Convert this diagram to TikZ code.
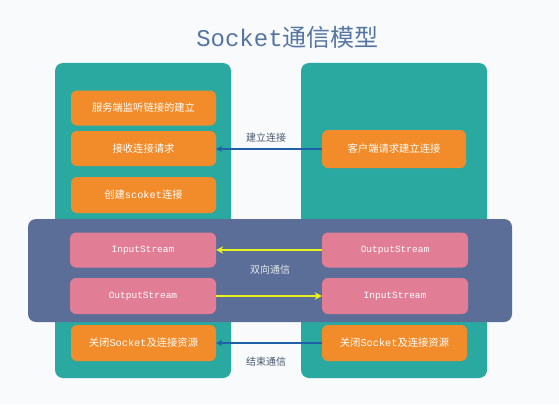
\documentclass[tikz,border=0pt]{standalone}
\usepackage{fontspec}
\setmainfont{Noto Sans CJK SC}
\newfontfamily\mono{Liberation Mono}
\usetikzlibrary{arrows.meta}
\definecolor{bgc}{HTML}{F8FAFC}
\definecolor{panelc}{HTML}{2AA9A0}
\definecolor{orng}{HTML}{F28C2A}
\definecolor{band}{HTML}{5A6E98}
\definecolor{pink}{HTML}{E27D96}
\definecolor{titlec}{HTML}{5676A2}
\definecolor{arrblue}{HTML}{2060A8}
\definecolor{yel}{HTML}{E8F21E}
\definecolor{labc}{HTML}{4A5A6E}
\tikzset{
  panel/.style={fill=panelc, rounded corners=8pt, inner sep=0pt},
  bandbox/.style={fill=band, rounded corners=8pt, inner sep=0pt},
  obox/.style={fill=orng, rounded corners=6pt, inner sep=0pt, minimum width=145pt, minimum height=35pt, text=white, font=\fontsize{10.3}{12}\selectfont},
  pbox/.style={fill=pink, rounded corners=6pt, inner sep=0pt, minimum width=146pt, minimum height=35pt, text=white, font=\mono\fontsize{9.5}{12}\selectfont},
  lab/.style={text=labc, font=\fontsize{10}{12}\selectfont},
  barrow/.style={draw=arrblue, line width=1.4pt, -{Stealth[length=6pt,width=6pt]}},
  yarrow/.style={draw=yel, line width=2.2pt, -{Stealth[length=7pt,width=7.5pt]}}
}
\begin{document}
\begin{tikzpicture}[x=1pt,y=-1pt]
\fill[bgc] (0,0) rectangle (559,404);
\useasboundingbox (0,0) rectangle (559,404);
\node[text=titlec, font=\fontsize{24}{28}\selectfont] (title) at (287.5,37) {{\mono Socket}通信模型};
\node[panel, minimum width=176pt, minimum height=315pt] (lp) at (143,220.5) {};
\node[panel, minimum width=186pt, minimum height=315pt] (rp) at (394,220.5) {};
\node[obox] (s1) at (143.5,108) {服务端监听链接的建立};
\node[obox] (s2) at (143.5,148.5) {接收连接请求};
\node[obox, minimum height=36pt] (s3) at (143.5,195) {创建{\mono scoket}连接};
\node[obox, minimum width=144pt, minimum height=38pt] (c1) at (394,149) {客户端请求建立连接};
\node[bandbox, minimum width=484pt, minimum height=103pt] (bd) at (270,270.5) {};
\node[pbox] (sIn) at (143,250) {InputStream};
\node[pbox, minimum height=36pt] (sOut) at (143,296) {OutputStream};
\node[pbox] (cOut) at (395,250) {OutputStream};
\node[pbox, minimum height=36pt] (cIn) at (395,296) {InputStream};
\node[obox, minimum height=36pt] (sC) at (143.5,343) {关闭{\mono Socket}及连接资源};
\node[obox, minimum height=36pt] (cC) at (394.5,343) {关闭{\mono Socket}及连接资源};
\draw[barrow] (c1.west) -- (s2.east |- c1.west);
\draw[yarrow] (cOut.west) -- (sIn.east);
\draw[yarrow] (sOut.east) -- (cIn.west);
\draw[barrow] (cC.west) -- (sC.east);
\node[lab] (l1) at (266,138) {建立连接};
\node[text=white!85!band, font=\fontsize{10}{12}\selectfont] (l2) at (270,270) {双向通信};
\node[lab] (l3) at (266,362) {结束通信};
\end{tikzpicture}
\end{document}
